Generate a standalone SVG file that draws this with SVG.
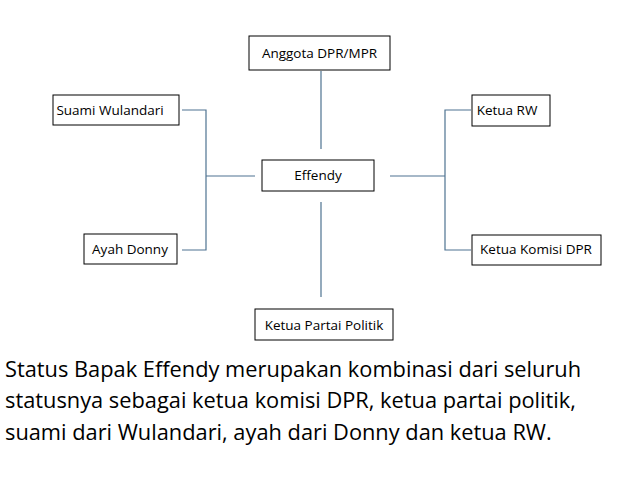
<svg xmlns="http://www.w3.org/2000/svg" width="638" height="479" viewBox="0 0 638 479">
<style>
.b{fill:#fff;stroke:#000;stroke-width:1}
.t{font-family:"Open Sans","Liberation Sans",sans-serif;font-size:13.5px;fill:#000}
.c{stroke:#4f7391;stroke-width:1.2;fill:none}
.p{font-family:"Open Sans","Liberation Sans",sans-serif;font-size:21.8px;fill:#000}
</style>
<rect width="638" height="479" fill="#fff"/>
<g id="connectors">
<path class="c" d="M182 110H206V250H182M206 176H255"/>
<path class="c" d="M390 176H445M471 110H445V250H471"/>
<path class="c" d="M321 71V149M321 202V297"/>
</g>
<g id="anggota"><rect class="b" x="249" y="36" width="141" height="34"/><text class="t" x="319.5" y="58" text-anchor="middle">Anggota DPR/MPR</text></g>
<g id="suami"><rect class="b" x="53" y="95" width="126" height="30"/><text class="t" x="110" y="115" text-anchor="middle">Suami Wulandari</text></g>
<g id="effendy"><rect class="b" x="262" y="160" width="112" height="31"/><text class="t" x="318" y="180" text-anchor="middle">Effendy</text></g>
<g id="ayah"><rect class="b" x="84" y="234" width="93" height="30"/><text class="t" x="130" y="254" text-anchor="middle">Ayah Donny</text></g>
<g id="rw"><rect class="b" x="472" y="95" width="78" height="31"/><text class="t" x="507" y="115" text-anchor="middle">Ketua RW</text></g>
<g id="komisi"><rect class="b" x="472" y="235" width="129" height="30"/><text class="t" x="536" y="254" text-anchor="middle">Ketua Komisi DPR</text></g>
<g id="partai"><rect class="b" x="255" y="309" width="138" height="31"/><text class="t" x="324" y="330" text-anchor="middle">Ketua Partai Politik</text></g>
<text class="p" x="5" y="377">Status Bapak Effendy merupakan kombinasi dari seluruh</text>
<text class="p" x="5" y="408">statusnya sebagai ketua komisi DPR, ketua partai politik,</text>
<text class="p" x="5" y="440">suami dari Wulandari, ayah dari Donny dan ketua RW.</text>
</svg>
